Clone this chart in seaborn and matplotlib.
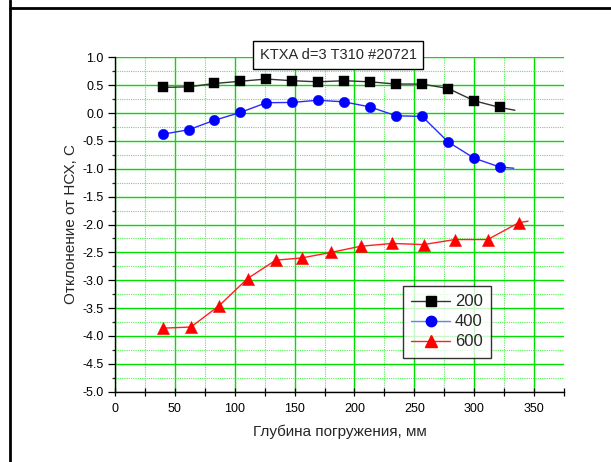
import numpy as np
import pandas as pd
import matplotlib
matplotlib.use("Agg")
import matplotlib.pyplot as plt
from matplotlib.lines import Line2D
from matplotlib.ticker import MultipleLocator, FormatStrFormatter
import seaborn as sns

# ---- data ----
x_bw = [40, 61.5, 83, 104.7, 126.3, 148, 169.5, 191.2, 213, 234.8, 256.5, 278.3, 300, 321.5]
y_200 = [0.46, 0.47, 0.53, 0.57, 0.61, 0.58, 0.56, 0.58, 0.56, 0.52, 0.52, 0.44, 0.22, 0.10]
y_400 = [-0.38, -0.30, -0.13, 0.01, 0.185, 0.19, 0.23, 0.20, 0.11, -0.05, -0.06, -0.52, -0.81, -0.97]
x_600 = [40, 63.4, 86.8, 110.7, 134.2, 156, 180.6, 205.2, 231.7, 257.7, 283.9, 311.3, 337]
y_600 = [-3.86, -3.84, -3.46, -2.97, -2.64, -2.60, -2.50, -2.39, -2.34, -2.36, -2.27, -2.27, -1.97]
# line tails (curve continues past the last marker)
tail_x = {"200": 334, "400": 333, "600": 345}
tail_y = {"200": 0.05, "400": -0.99, "600": -1.94}

labels = ["200", "400", "600"]
title_text = "KTXA d=3 T310 #20721"
xlabel = "Глубина погружения, мм"
ylabel = "Отклонение от НСХ, С"

series = {"200": (x_bw, y_200), "400": (x_bw, y_400), "600": (x_600, y_600)}
colors = {"200": "#000000", "400": "#0000ff", "600": "#ff0000"}
line_colors = {"200": "#333333", "400": "#2a2aff", "600": "#ff2020"}
markers = {"200": "s", "400": "o", "600": "^"}
msizes = {"200": 7.3, "400": 7.5, "600": 8.8}

sns.set_style("white")
plt.rcParams["font.family"] = ["Liberation Sans", "DejaVu Sans"]

fig = plt.figure(figsize=(6.11, 4.62), dpi=100)
ax = fig.add_axes([115/611, 1-391.7/462, (564-115)/611, (391.7-57.3)/462])

for k in labels:
    xs, ys = series[k]
    dfl = pd.DataFrame({"x": list(xs) + [tail_x[k]], "y": list(ys) + [tail_y[k]]})
    sns.lineplot(data=dfl, x="x", y="y", ax=ax, color=line_colors[k], lw=1.0,
                 sort=False, estimator=None, zorder=3)
    dfm = pd.DataFrame({"x": xs, "y": ys})
    sns.scatterplot(data=dfm, x="x", y="y", ax=ax, color=colors[k], marker=markers[k],
                    s=msizes[k]**2, edgecolor=colors[k], linewidth=0.3, zorder=4)

ax.set_xlim(0, 375)
ax.set_ylim(-5.0, 1.0)
ax.xaxis.set_major_locator(MultipleLocator(50))
ax.xaxis.set_minor_locator(MultipleLocator(25))
ax.yaxis.set_major_locator(MultipleLocator(0.5))
ax.yaxis.set_minor_locator(MultipleLocator(0.25))
ax.yaxis.set_major_formatter(FormatStrFormatter("%.1f"))

ax.grid(True, which="major", color="#00e000", lw=1.0, ls="-", zorder=0)
ax.grid(True, which="minor", color="#55ee55", lw=0.8, ls=(0, (1, 1)), zorder=0)
ax.set_axisbelow(True)

for s in ["top", "right"]:
    ax.spines[s].set_visible(False)
for s in ["left", "bottom"]:
    ax.spines[s].set_color("black")
    ax.spines[s].set_linewidth(1.0)

ax.tick_params(axis="x", which="both", direction="inout", length=6, width=0.9,
               labelsize=9, colors="black", pad=5, bottom=True)
ax.tick_params(axis="y", which="major", direction="out", length=5, width=0.9,
               labelsize=9, colors="black", pad=3, left=True)
ax.tick_params(axis="y", which="minor", direction="out", length=2.5, width=0.9, left=True)

ax.set_xlabel(xlabel, fontsize=11, labelpad=7)
ax.set_ylabel(ylabel, fontsize=11, labelpad=3)

# title box
fig.text(338/611, 1-55/462, title_text, ha="center", va="center", fontsize=10.5,
         bbox=dict(boxstyle="square,pad=0.45", fc="white", ec="black", lw=1.0))

# legend
handles = [Line2D([0], [0], color=line_colors[k], lw=1.0, marker=markers[k],
                  markersize=msizes[k], markerfacecolor=colors[k],
                  markeredgecolor=colors[k], alpha=1.0) for k in labels]
handles[1].set_color("#7777ff")
handles[1].set_markerfacecolor("#0000ff")
handles[1].set_markeredgecolor("#0000ff")
leg = ax.legend(handles, labels, loc="upper left",
                bbox_to_anchor=((403-115)/449, 1-(286-57.3)/334.4),
                fontsize=12, frameon=True, fancybox=False, handlelength=2.3,
                handletextpad=0.3, borderpad=0.5, labelspacing=0.3, borderaxespad=0)
leg.get_frame().set_edgecolor("black")
leg.get_frame().set_linewidth(1.0)

# page/cell borders
fig.add_artist(Line2D([10/611, 10/611], [0, 1], transform=fig.transFigure, color="black", lw=2))
fig.add_artist(Line2D([10/611, 1], [1-7.5/462, 1-7.5/462], transform=fig.transFigure, color="black", lw=2))

fig.savefig("out.png", dpi=100)
